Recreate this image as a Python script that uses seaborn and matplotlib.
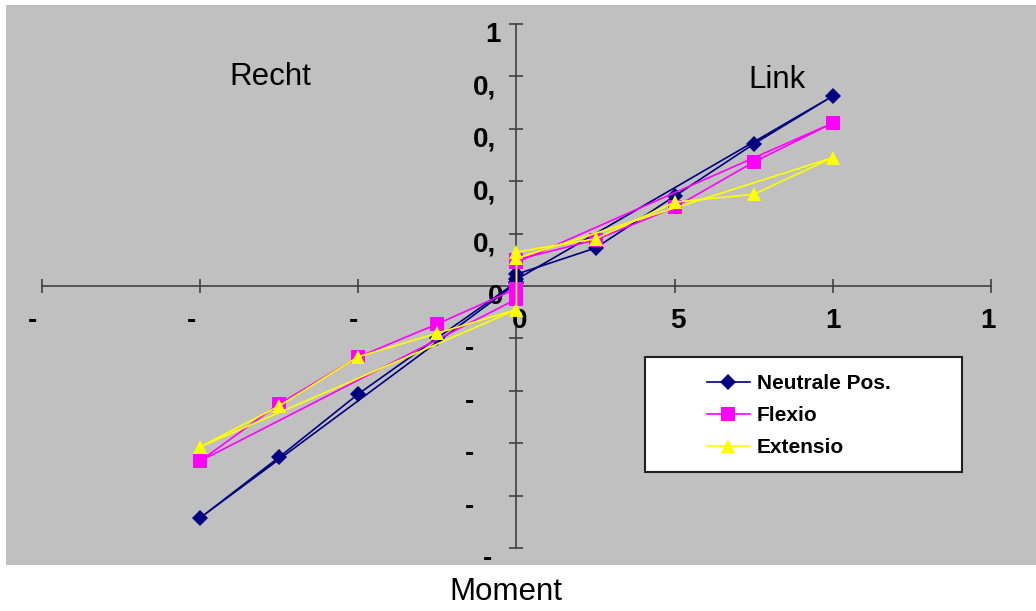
import matplotlib
matplotlib.use("Agg")
import matplotlib.pyplot as plt
import matplotlib.transforms as mtransforms
from matplotlib.patches import Rectangle
import seaborn as sns
import pandas as pd

# ---- data ----
series_names = ["Neutrale Pos.", "Flexio", "Extensio"]
moment = [0, 2.5, 5, 7.5, 10, 0, 0, -2.5, -5, -7.5, -10, 0]
neutrale = [0.045, 0.145, 0.343, 0.542, 0.725, 0.025, 0.015, -0.198, -0.412, -0.653, -0.885, 0.01]
flexio = [0.10, 0.176, 0.300, 0.473, 0.622, 0.09, -0.01, -0.145, -0.271, -0.450, -0.668, -0.05]
extensio = [0.13, 0.18, 0.32, 0.35, 0.49, 0.105, -0.09, -0.18, -0.27, -0.458, -0.614, -0.09]

x_ticks = [-15, -10, -5, 0, 5, 10, 15]
x_tick_labels = ["-", "-", "-", "0", "5", "1", "1"]
y_ticks = [-1.0, -0.8, -0.6, -0.4, -0.2, 0.0, 0.2, 0.4, 0.6, 0.8, 1.0]
y_tick_labels = ["-", "-", "-", "-", "-", "0", "0,", "0,", "0,", "0,", "1"]

colors = {"Neutrale Pos.": "#000080", "Flexio": "#FF00FF", "Extensio": "#FFFF00"}
markers = {"Neutrale Pos.": "D", "Flexio": "s", "Extensio": "^"}
marker_sizes = {"Neutrale Pos.": 8.5, "Flexio": 10, "Extensio": 10.5}

rows = []
for name, vals in zip(series_names, [neutrale, flexio, extensio]):
    for i, (xv, yv) in enumerate(zip(moment, vals)):
        rows.append({"Moment": xv, "Wert": yv, "Serie": name, "idx": i})
df = pd.DataFrame(rows)

plt.rcParams["font.family"] = ["Liberation Sans", "DejaVu Sans"]

fig = plt.figure(figsize=(10.36, 6.11), dpi=100)
fig.patch.set_facecolor("white")
ax = fig.add_axes([6 / 1036, 1 - 565 / 611, 1030 / 1036, 560 / 611])
ax.set_facecolor("#C0C0C0")

for name in series_names:
    sns.lineplot(data=df[df["Serie"] == name], x="Moment", y="Wert",
                 color=colors[name], marker=markers[name],
                 sort=False, estimator=None, ax=ax, linewidth=1.2,
                 markersize=marker_sizes[name], markeredgewidth=0, label=name)

ax.set_xlim(-16.138, 16.423)
ax.set_ylim(-1.065, 1.0725)

for s in ["top", "right"]:
    ax.spines[s].set_visible(False)
ax.spines["left"].set_position("zero")
ax.spines["bottom"].set_position("zero")
ax.spines["left"].set_bounds(-1, 1)
ax.spines["bottom"].set_bounds(-15, 15)
for s in ["left", "bottom"]:
    ax.spines[s].set_color("#404040")
    ax.spines[s].set_linewidth(1.2)
    ax.spines[s].set_zorder(1)

ax.set_xticks(x_ticks)
ax.set_xticklabels(x_tick_labels)
ax.set_yticks(y_ticks)
ax.set_yticklabels(y_tick_labels)
ax.tick_params(axis="both", direction="inout", length=10, width=1.2, color="#404040",
               labelsize=20)
ax.tick_params(axis="x", pad=11)
ax.tick_params(axis="y", pad=10)
for lab in ax.get_xticklabels() + ax.get_yticklabels():
    lab.set_fontweight("bold")
ax.set_xlabel("")
ax.set_ylabel("")
ax.grid(False)

# label offsets (pixels) to mimic clipped Excel labels
x_off = [-9, -9, -5, 3, 3, 0, -3]
for lab, dx in zip(ax.get_xticklabels(), x_off):
    lab.set_transform(lab.get_transform() + mtransforms.ScaledTranslation(dx / 100, 0, fig.dpi_scale_trans))
y_off = [-4, -22, -22, -22, -22, 8, 0, 0, 0, 0, 5]
for lab, dx in zip(ax.get_yticklabels(), y_off):
    lab.set_transform(lab.get_transform() + mtransforms.ScaledTranslation(dx / 100, -8 / 100, fig.dpi_scale_trans))

# annotations
ax.text(-7.78, 0.798, "Recht", fontsize=22.5, ha="center", va="center")
ax.text(8.22, 0.786, "Link", fontsize=22.5, ha="center", va="center")
fig.text(506 / 1036, 1 - 592 / 611, "Moment", fontsize=22.5, ha="center", va="center")

# legend
handles, labels = ax.get_legend_handles_labels()
if ax.get_legend() is not None:
    ax.get_legend().remove()
ax.add_patch(Rectangle((0.6204, 0.1661), 0.3078, 0.2054, transform=ax.transAxes,
                       facecolor="white", edgecolor="#202020", linewidth=1.5, zorder=5))
leg = ax.legend(handles, labels, loc="center", bbox_to_anchor=(0.7694, 0.2670),
                frameon=False, prop={"weight": "bold", "size": 15},
                handlelength=2.07, handletextpad=0.34, labelspacing=0.62,
                borderpad=0)
leg.set_zorder(6)

fig.savefig("out.png", dpi=100, facecolor="white")
